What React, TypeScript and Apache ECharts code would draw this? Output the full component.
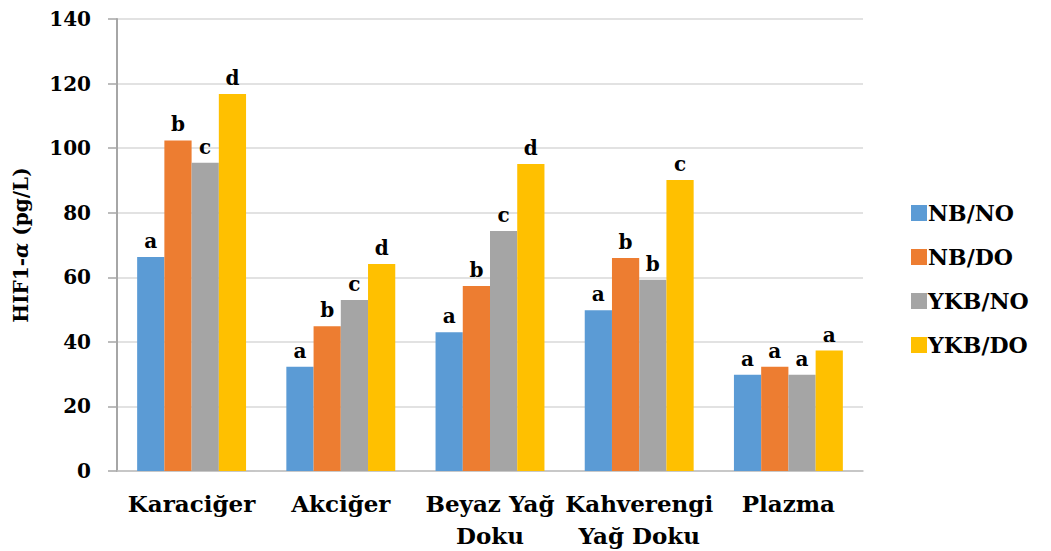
import React, { useEffect, useRef } from "react";
import * as echarts from "echarts";

const categories = ["Karaciğer", "Akciğer", "Beyaz Yağ\nDoku", "Kahverengi\nYağ Doku", "Plazma"];
const seriesNames = ["NB/NO", "NB/DO", "YKB/NO", "YKB/DO"];
const nbNo = [66.3, 32.3, 43.0, 49.8, 29.8];
const nbDo = [102.4, 44.8, 57.3, 66.0, 32.3];
const ykbNo = [95.5, 53.0, 74.3, 59.2, 29.8];
const ykbDo = [116.8, 64.1, 95.1, 90.1, 37.3];
const letters = [
  ["a", "a", "a", "a", "a"],
  ["b", "b", "b", "b", "a"],
  ["c", "c", "c", "b", "a"],
  ["d", "d", "d", "c", "a"],
];
const colors = ["#5B9BD5", "#ED7D31", "#A5A5A5", "#FFC000"];
const yTicks = { min: 0, max: 140, interval: 20 };

const FONT = "DejaVu Serif";

export default function App() {
  const ref = useRef<HTMLDivElement>(null);
  useEffect(() => {
    if (!ref.current) return;
    const chart = echarts.init(ref.current, undefined, { renderer: "svg" });
    const data = [nbNo, nbDo, ykbNo, ykbDo];
    chart.setOption({
      animation: false,
      textStyle: { fontFamily: FONT },
      grid: { left: 117, right: 188, top: 19, bottom: 80, containLabel: false },
      legend: {
        orient: "vertical",
        left: 906,
        top: 197,
        itemWidth: 16,
        itemHeight: 16,
        itemGap: 22,
        icon: "rect",
        data: seriesNames,
        textStyle: { fontFamily: FONT, fontWeight: "bold", fontSize: 22, color: "#000", padding: [0, 0, 0, -4] },
      },
      xAxis: {
        type: "category",
        data: categories,
        axisLine: { lineStyle: { color: "#BFBFBF", width: 1.5 } },
        axisTick: { show: false },
        axisLabel: {
          fontFamily: FONT,
          fontWeight: "bold",
          fontSize: 23,
          color: "#000",
          margin: 16,
          lineHeight: 32,
          interval: 0,
        },
      },
      yAxis: {
        type: "value",
        min: yTicks.min,
        max: yTicks.max,
        interval: yTicks.interval,
        name: "HIF1-{i|α} (pg/L)",
        nameLocation: "middle",
        nameGap: 86,
        nameTextStyle: {
          fontFamily: FONT,
          fontWeight: "bold",
          fontSize: 20,
          color: "#000",
          rich: { i: { fontFamily: FONT, fontWeight: "bold", fontStyle: "italic", fontSize: 20, color: "#000" } },
        },
        axisLine: { show: true, lineStyle: { color: "#A6A6A6", width: 2 } },
        axisTick: { show: true, length: 9, lineStyle: { color: "#A6A6A6", width: 1.5 } },
        axisLabel: { fontFamily: FONT, fontWeight: "bold", fontSize: 20, color: "#000", margin: 26 },
        splitLine: { lineStyle: { color: "#D9D9D9", width: 1.5 } },
      },
      series: seriesNames.map((name, i) => ({
        name,
        type: "bar",
        data: data[i],
        barGap: "0%",
        barCategoryGap: "27%",
        itemStyle: { color: colors[i] },
        label: {
          show: true,
          position: "top",
          distance: 6,
          formatter: (p: any) => letters[i][p.dataIndex],
          fontFamily: FONT,
          fontWeight: "bold",
          fontSize: 20,
          color: "#000",
        },
      })),
    });
    return () => chart.dispose();
  }, []);
  return (
    <div
      ref={ref}
      style={{ position: "absolute", left: 0, top: 0, width: 1051, height: 551, background: "#fff" }}
    />
  );
}
